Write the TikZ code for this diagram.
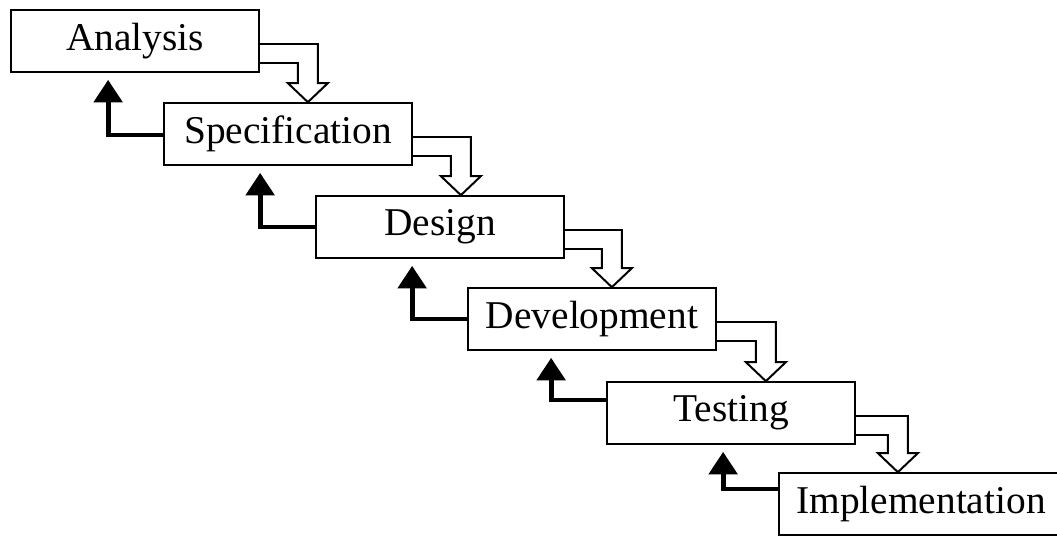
\documentclass[tikz,border=0pt]{standalone}
\usepackage{fontspec}
\setmainfont{Liberation Serif}
\usetikzlibrary{arrows.meta,calc}
\newcommand{\stepflow}[3]{%
% from node, to node, shaft offset
  \draw[flow] ($(#1.east)+(0,3)$) -- ++(#3+10,0)
    -- ($(#1.east |- #2.north)+(#3+10,-19)$) -- ++(10,0)
    -- ($(#1.east |- #2.north)+(#3,0)$) -- ++(-20,-19) -- ++(10,0)
    -- ($(#1.east)+(#3-10,22)$) -- ($(#1.east)+(0,22)$);
}
\newcommand{\stepback}[3]{%
% lower node, upper node, vertical shift
  \draw[back] ($(#1.west)+(0,#3)$) -- ++(-55,0)
    -- ($(#1.west |- #2.south)+(-55,7)$);
}

\begin{document}
\begin{tikzpicture}[x=0.025cm, y=-0.025cm,
  stage/.style={draw, line width=1.2pt, minimum width=6.2cm, minimum height=1.55cm,
    inner sep=0pt, font=\fontsize{28}{30}\selectfont},
  flow/.style={line width=1.4pt, line join=miter},
  back/.style={line width=3.5pt, -{Triangle[width=20pt,length=16pt]}}]
  \useasboundingbox (0,0) rectangle (1057,537);
  \clip (0,0) rectangle (1057,537);
  \node[stage] (ana) at (135,41) {Analysis};
  \node[stage] (spec) at (288,134) {Specification};
  \node[stage] (des) at (440,227) {Design};
  \node[stage] (dev) at (592,319) {Development};
  \node[stage] (test) at (731,413) {Testing};
  \node[stage, minimum width=7.1cm] (impl) at (921,504) {Implementation};
  \foreach \lo/\up/\sh in {ana/spec/48,spec/des/48,des/dev/47,dev/test/49,test/impl/42} {
    \stepflow{\lo}{\up}{\sh}
  }
  \foreach \lo/\up/\dy in {spec/ana/1,des/spec/0,dev/des/0,test/dev/-13,impl/test/-15} {
    \stepback{\lo}{\up}{\dy}
  }
\end{tikzpicture}
\end{document}
